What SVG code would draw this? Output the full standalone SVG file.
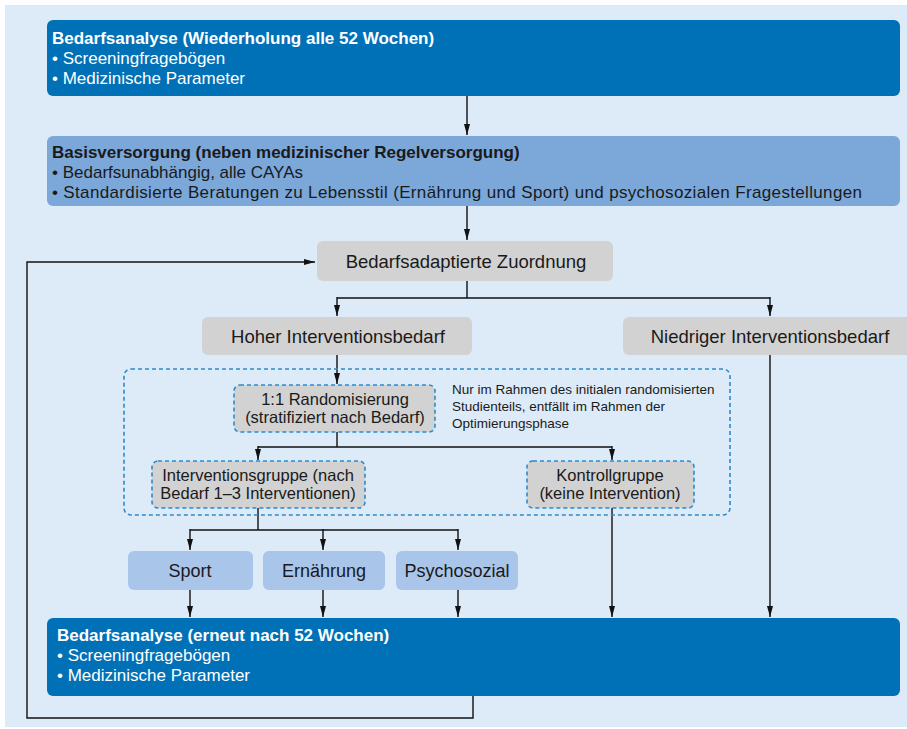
<svg xmlns="http://www.w3.org/2000/svg" width="907" height="729" viewBox="0 0 907 729">
<defs>
<marker id="a" viewBox="0 0 11 8" refX="11" refY="4" markerWidth="11" markerHeight="8" orient="auto" markerUnits="userSpaceOnUse">
<path d="M0,1 L11,4 L0,7 Z" fill="#111"/>
</marker>
</defs>
<style>
text{font-family:"Liberation Sans",Arial,sans-serif;}
.dark{fill:#0071b7;}
.mid{fill:#7ba7d9;}
.light{fill:#a9c5ea;}
.gray{fill:#d2d2d2;}
.dash{stroke:#2b8bcc;stroke-width:1.6;stroke-dasharray:4 3;}
.w{fill:#fff;font-size:17px;}
.k{fill:#1a1a1a;font-size:17px;}
.g{fill:#1a1a1a;font-size:18.5px;}
.s{fill:#1a1a1a;font-size:16.5px;}
.i{fill:#1a1a1a;font-size:18px;}
.b{font-weight:bold;}
.c{text-anchor:middle;}
.n{fill:#1a1a1a;font-size:13.5px;}
.ln{fill:none;stroke:#111;stroke-width:1.4;}
.ar{fill:none;stroke:#111;stroke-width:1.4;marker-end:url(#a);}
</style>
<rect x="5" y="5" width="902" height="722" fill="#ddeaf8"/>
<g id="connectors">
<line class="ar" x1="467" y1="96" x2="467" y2="135"/>
<line class="ar" x1="467" y1="206" x2="467" y2="240"/>
<path class="ln" d="M467,281 V298 M337,298 H770"/>
<line class="ar" x1="337" y1="297" x2="337" y2="316"/>
<line class="ar" x1="770" y1="297" x2="770" y2="316"/>
<line class="ar" x1="770" y1="355" x2="770" y2="617"/>
<line class="ar" x1="337" y1="355" x2="337" y2="384"/>
<path class="ln" d="M337,432 V447 M258,447 H612"/>
<line class="ar" x1="258" y1="446" x2="258" y2="460"/>
<line class="ar" x1="612" y1="446" x2="612" y2="460"/>
<path class="ln" d="M258,508 V530 M190,530 H458"/>
<line class="ar" x1="190" y1="529" x2="190" y2="550"/>
<line class="ar" x1="323" y1="529" x2="323" y2="550"/>
<line class="ar" x1="458" y1="529" x2="458" y2="550"/>
<line class="ar" x1="190" y1="590" x2="190" y2="617"/>
<line class="ar" x1="323" y1="590" x2="323" y2="617"/>
<line class="ar" x1="458" y1="590" x2="458" y2="617"/>
<line class="ar" x1="612" y1="508" x2="612" y2="617"/>
<path class="ar" d="M473,696 V718 H27 V262 H315"/>
</g>
<rect class="dash" x="124" y="369" width="606" height="146" rx="7" fill="none"/>
<g id="n1">
<rect class="dark" x="47" y="20" width="853" height="76" rx="6"/>
<text class="w b" x="52" y="44">Bedarfsanalyse (Wiederholung alle 52 Wochen)</text>
<text class="w" x="52" y="64">• Screeningfragebögen</text>
<text class="w" x="52" y="84">• Medizinische Parameter</text>
</g>
<g id="n2">
<rect class="mid" x="47" y="136" width="853" height="70" rx="6"/>
<text class="k b" x="52" y="158">Basisversorgung (neben medizinischer Regelversorgung)</text>
<text class="k" x="52" y="178">• Bedarfsunabhängig, alle CAYAs</text>
<text class="k" x="52" y="198" textLength="810">• Standardisierte Beratungen zu Lebensstil (Ernährung und Sport) und psychosozialen Fragestellungen</text>
</g>
<g id="n3">
<rect class="gray" x="317" y="241" width="296" height="40" rx="6"/>
<text class="g c" x="466" y="268">Bedarfsadaptierte Zuordnung</text>
</g>
<g id="n4">
<rect class="gray" x="202" y="317" width="270" height="38" rx="6"/>
<text class="g c" x="338" y="343">Hoher Interventionsbedarf</text>
</g>
<g id="n5">
<rect class="gray" x="623" y="317" width="290" height="38" rx="6"/>
<text class="g c" x="770" y="343">Niedriger Interventionsbedarf</text>
</g>
<g id="n6">
<rect class="gray dash" x="234" y="385" width="201" height="47" rx="6"/>
<text class="s c" x="335" y="405">1:1 Randomisierung</text>
<text class="s c" x="335" y="423">(stratifiziert nach Bedarf)</text>
</g>
<g id="note">
<text class="n" x="452" y="394">Nur im Rahmen des initialen randomisierten</text>
<text class="n" x="452" y="411">Studienteils, entfällt im Rahmen der</text>
<text class="n" x="452" y="428">Optimierungsphase</text>
</g>
<g id="n7">
<rect class="gray dash" x="152" y="461" width="213" height="47" rx="6"/>
<text class="s c" x="258" y="481">Interventionsgruppe (nach</text>
<text class="s c" x="258" y="499">Bedarf 1–3 Interventionen)</text>
</g>
<g id="n8">
<rect class="gray dash" x="527" y="461" width="167" height="47" rx="6"/>
<text class="s c" x="610" y="481">Kontrollgruppe</text>
<text class="s c" x="610" y="499">(keine Intervention)</text>
</g>
<g id="n9">
<rect class="light" x="128" y="551" width="125" height="39" rx="6"/>
<text class="i c" x="190" y="577">Sport</text>
</g>
<g id="n10">
<rect class="light" x="263" y="551" width="122" height="39" rx="6"/>
<text class="i c" x="324" y="577">Ernährung</text>
</g>
<g id="n11">
<rect class="light" x="396" y="551" width="122" height="39" rx="6"/>
<text class="i c" x="457" y="577">Psychosozial</text>
</g>
<g id="n12">
<rect class="dark" x="47" y="618" width="853" height="78" rx="6"/>
<text class="w b" x="57" y="641">Bedarfsanalyse (erneut nach 52 Wochen)</text>
<text class="w" x="57" y="661">• Screeningfragebögen</text>
<text class="w" x="57" y="681">• Medizinische Parameter</text>
</g>
</svg>
